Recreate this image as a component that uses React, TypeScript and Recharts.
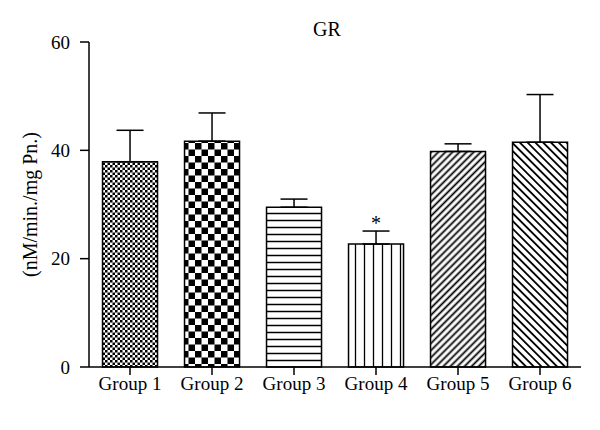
import { BarChart, Bar, XAxis, YAxis, ErrorBar, Cell, LabelList, Label } from "recharts";

const groups = ["Group 1", "Group 2", "Group 3", "Group 4", "Group 5", "Group 6"];
const means = [37.9, 41.7, 29.5, 22.7, 39.8, 41.5];
const sems = [5.8, 5.2, 1.5, 2.4, 1.4, 8.8];
const marks = ["", "", "", "*", "", ""];
const yTicks = [0, 20, 40, 60];

const fills = ["url(#pChkS)", "url(#pChkL)", "url(#pHor)", "url(#pVer)", "url(#pFwd)", "url(#pBack)"];

const data = groups.map((g, i) => ({
  name: g,
  value: means[i],
  err: [0, sems[i]],
  mark: marks[i],
}));

const font = "'Liberation Serif', 'Times New Roman', serif";

// asterisk above the error cap
function StarLabel(props: any) {
  const { x, y, width, height, index, value } = props;
  if (!value) return null;
  const pxPer = height / means[index];
  const yTop = y - sems[index] * pxPer;
  return (
    <text x={x + width / 2} y={yTop - 1} textAnchor="middle" fontFamily={font} fontSize={20} fill="#000">
      {value}
    </text>
  );
}

// rotated y-axis title, centred on the plot height
function YTitle(props: any) {
  const vb = props.viewBox || {};
  const cx = 30;
  const cy = (vb.y ?? 42) + (vb.height ?? 325) / 2;
  return (
    <text
      x={cx}
      y={cy}
      transform={`rotate(-90 ${cx} ${cy})`}
      textAnchor="middle"
      dominantBaseline="central"
      fontFamily={font}
      fontSize={20}
      fill="#000"
    >
      (nM/min./mg Pn.)
    </text>
  );
}

export default function App() {
  return (
    <div style={{ position: "absolute", left: 0, top: 0, background: "#fff", fontFamily: font }}>
      <BarChart
        width={600}
        height={430}
        data={data}
        margin={{ top: 42, right: 19, bottom: 0, left: 0 }}
        barCategoryGap="16.5%"
      >
        <defs>
          <pattern id="pChkS" width="5" height="5" patternUnits="userSpaceOnUse">
            <rect width="5" height="5" fill="#fff" />
            <rect width="2.5" height="2.5" fill="#000" />
            <rect x="2.5" y="2.5" width="2.5" height="2.5" fill="#000" />
          </pattern>
          <pattern id="pChkL" width="13" height="13" patternUnits="userSpaceOnUse">
            <rect width="13" height="13" fill="#fff" />
            <rect width="6.5" height="6.5" fill="#000" />
            <rect x="6.5" y="6.5" width="6.5" height="6.5" fill="#000" />
          </pattern>
          <pattern id="pHor" width="10" height="7" patternUnits="userSpaceOnUse">
            <rect width="10" height="7" fill="#fff" />
            <line x1="0" y1="3.5" x2="10" y2="3.5" stroke="#000" strokeWidth="1.5" />
          </pattern>
          <pattern id="pVer" width="9" height="10" patternUnits="userSpaceOnUse">
            <rect width="9" height="10" fill="#fff" />
            <line x1="4.5" y1="0" x2="4.5" y2="10" stroke="#000" strokeWidth="1.3" />
          </pattern>
          <pattern id="pFwd" width="5" height="5" patternUnits="userSpaceOnUse" patternTransform="rotate(45)">
            <rect width="5" height="5" fill="#fff" />
            <line x1="2.5" y1="0" x2="2.5" y2="5" stroke="#000" strokeWidth="1.8" />
          </pattern>
          <pattern id="pBack" width="5.5" height="5.5" patternUnits="userSpaceOnUse" patternTransform="rotate(-45)">
            <rect width="5.5" height="5.5" fill="#fff" />
            <line x1="2.75" y1="0" x2="2.75" y2="5.5" stroke="#000" strokeWidth="1.8" />
          </pattern>
        </defs>
        <text x={327} y={36} textAnchor="middle" fontFamily={font} fontSize={20} fill="#000">
          GR
        </text>
        <XAxis
          dataKey="name"
          height={63}
          stroke="#000"
          strokeWidth={1.5}
          tickSize={8}
          tickMargin={2}
          fontSize={19}
          fontFamily={font}
          tick={{ fill: "#000", fontSize: 19, fontFamily: font }}
        />
        <YAxis
          domain={[0, 60]}
          ticks={yTicks}
          width={89}
          stroke="#000"
          strokeWidth={1.5}
          tickSize={9}
          tickMargin={10}
          fontSize={19}
          fontFamily={font}
          tick={{ fill: "#000", fontSize: 19, fontFamily: font }}
        >
          <Label content={<YTitle />} />
        </YAxis>
        <Bar dataKey="value" stroke="#000" strokeWidth={1.5} isAnimationActive={false}>
          {data.map((d, i) => (
            <Cell key={d.name} fill={fills[i]} />
          ))}
          <ErrorBar dataKey="err" width={13.5} stroke="#000" strokeWidth={1.5} direction="y" />
          <LabelList dataKey="mark" content={<StarLabel />} />
        </Bar>
      </BarChart>
    </div>
  );
}
